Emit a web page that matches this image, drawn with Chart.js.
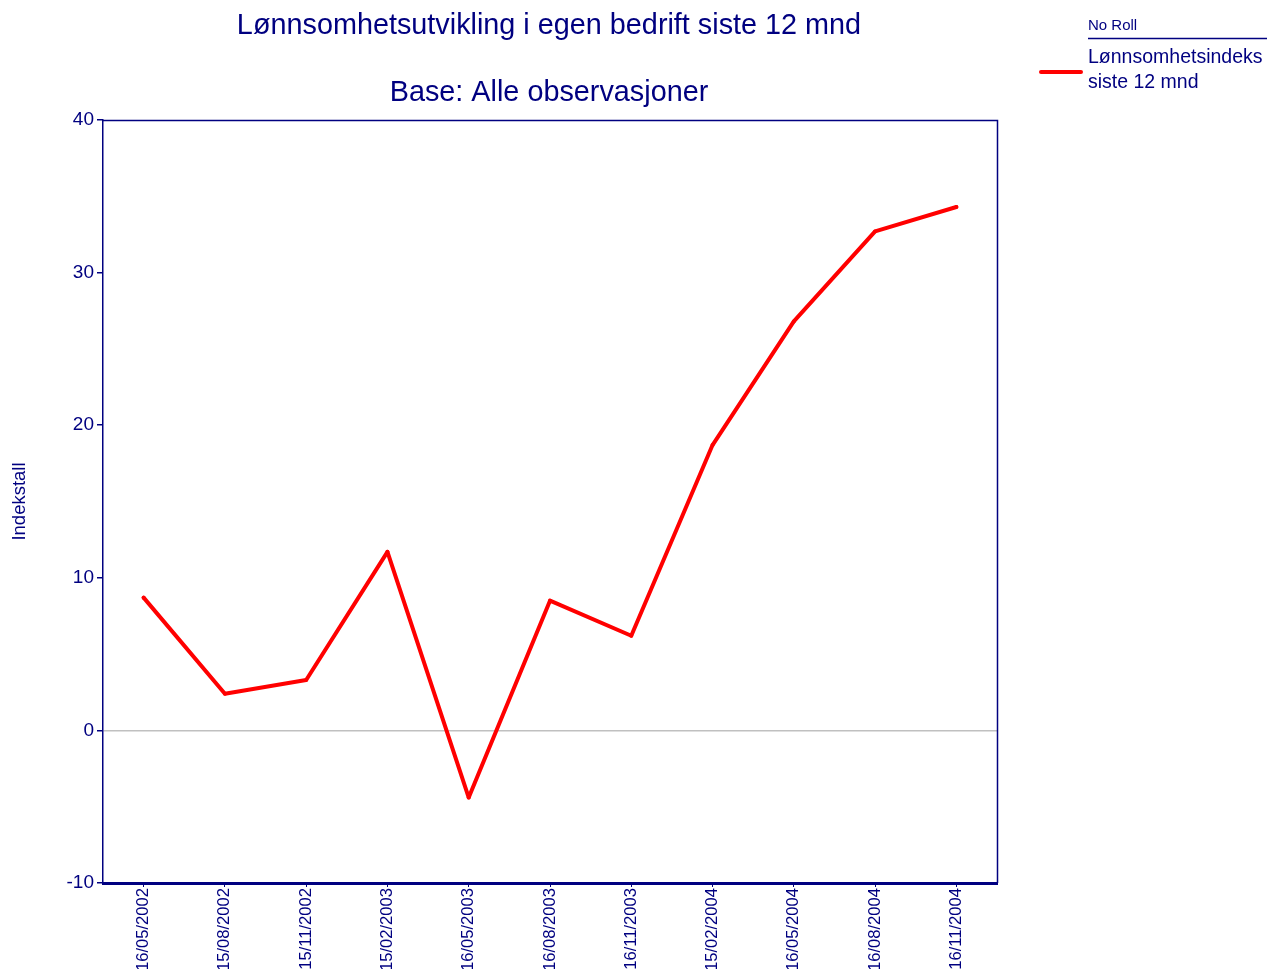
<!DOCTYPE html>
<html>
<head>
<meta charset="utf-8">
<script src="https://cdn.jsdelivr.net/npm/chart.js@4/dist/chart.umd.min.js"></script>
<style>
  html, body { margin: 0; padding: 0; background: #fff; }
  #wrap { width: 1267px; height: 969px; position: relative; }
</style>
</head>
<body>
<div id="wrap"><canvas id="chart" width="1267" height="969"></canvas></div>
<script>
// data
var labels = ["16/05/2002","15/08/2002","15/11/2002","15/02/2003","16/05/2003","16/08/2003",
              "16/11/2003","15/02/2004","16/05/2004","16/08/2004","16/11/2004"];
var lonnsomhet = [8.7, 2.4, 3.3, 11.7, -4.4, 8.5, 6.2, 18.7, 26.8, 32.7, 34.3];
var yTicks = [-10, 0, 10, 20, 30, 40];

var titleLines = ["Lønnsomhetsutvikling i egen bedrift siste 12 mnd", "Base: Alle observasjoner"];
var legendHeader = "No Roll";
var legendLines = ["Lønnsomhetsindeks", "siste 12 mnd"];

var NAVY = "#000080";
var FONT = "Liberation Sans, Arial, sans-serif";

// title + legend drawn on top of the canvas
var textPlugin = {
  id: "textPlugin",
  afterDraw: function(chart){
    var ctx = chart.ctx, a = chart.chartArea;
    ctx.save();
    ctx.fillStyle = NAVY;
    ctx.textAlign = "center";
    ctx.textBaseline = "alphabetic";
    ctx.font = "28.8px " + FONT;
    var cx = (a.left + a.right) / 2 - 1;
    ctx.fillText(titleLines[0], cx, 34);
    ctx.fillText(titleLines[1], cx, 101);

    // legend
    ctx.textAlign = "left";
    ctx.font = "15px " + FONT;
    ctx.fillText(legendHeader, 1088, 30);
    ctx.strokeStyle = NAVY;
    ctx.lineWidth = 1.5;
    ctx.beginPath(); ctx.moveTo(1088, 38.5); ctx.lineTo(1267, 38.5); ctx.stroke();
    ctx.font = "19.5px " + FONT;
    ctx.fillText(legendLines[0], 1088, 63);
    ctx.fillText(legendLines[1], 1088, 88);
    ctx.strokeStyle = "#ff0000";
    ctx.lineWidth = 4;
    ctx.lineCap = "round";
    ctx.beginPath(); ctx.moveTo(1041, 72); ctx.lineTo(1081, 72); ctx.stroke();

    // frame top + right
    ctx.strokeStyle = NAVY;
    ctx.lineWidth = 1.5;
    ctx.lineCap = "butt";
    ctx.beginPath();
    ctx.moveTo(a.left, a.top + 0.5); ctx.lineTo(a.right + 0.5, a.top + 0.5); ctx.lineTo(a.right + 0.5, a.bottom);
    ctx.stroke();
    ctx.restore();
  }
};

new Chart(document.getElementById("chart"), {
  type: "line",
  data: {
    labels: labels,
    datasets: [{
      label: legendLines.join(" "),
      data: lonnsomhet,
      borderColor: "#ff0000",
      backgroundColor: "#ff0000",
      borderWidth: 4,
      borderJoinStyle: "round",
      borderCapStyle: "round",
      pointRadius: 2,
      pointBackgroundColor: "#ff0000",
      pointBorderWidth: 0,
      tension: 0,
      clip: false
    }]
  },
  options: {
    responsive: false,
    animation: false,
    layout: { padding: { left: 0, top: 120, right: 270, bottom: 0 } },
    plugins: {
      legend: { display: false },
      title: { display: false },
      tooltip: { enabled: false }
    },
    scales: {
      x: {
        type: "category",
        offset: true,
        afterFit: function(s){ s.height = 86; },
        grid: {
          display: true,
          drawOnChartArea: false,
          drawTicks: true,
          tickLength: 4,
          tickColor: NAVY,
          offset: false
        },
        border: { display: true, color: NAVY, width: 3 },
        ticks: {
          color: NAVY,
          font: { family: FONT, size: 16.6 },
          maxRotation: 90,
          minRotation: 90,
          autoSkip: false,
          padding: 1
        }
      },
      y: {
        min: -10,
        max: 40,
        afterFit: function(s){ s.width = 103; },
        afterBuildTicks: function(s){ s.ticks = yTicks.map(function(v){ return { value: v }; }); },
        grid: {
          color: function(c){ return c.tick && c.tick.value === 0 ? "#c0c0c0" : "rgba(0,0,0,0)"; },
          lineWidth: 1.5,
          tickColor: NAVY,
          tickLength: 6,
          drawTicks: true
        },
        border: { display: true, color: NAVY, width: 1.5 },
        ticks: {
          color: NAVY,
          font: { family: FONT, size: 19 },
          padding: 3
        },
        title: {
          display: true,
          text: "Indekstall",
          color: NAVY,
          font: { family: FONT, size: 18.5 },
          padding: { top: 9, bottom: 0 }
        }
      }
    }
  },
  plugins: [textPlugin]
});
</script>
</body>
</html>
